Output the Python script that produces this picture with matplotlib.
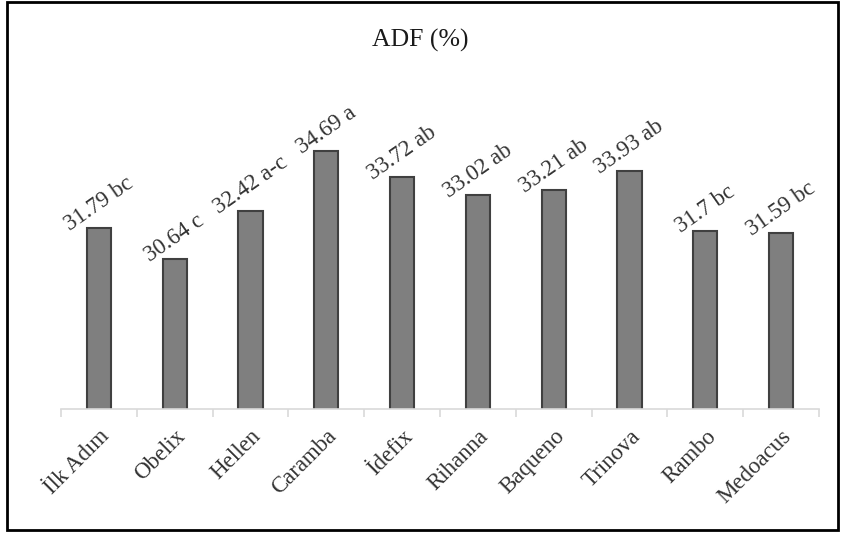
import matplotlib
matplotlib.use("Agg")
import matplotlib.pyplot as plt
import numpy as np
from matplotlib.patches import Rectangle

# Dati
cultivars = ['İlk Adım', 'Obelix', 'Hellen', 'Caramba', 'İdefix',
             'Rihanna', 'Baqueno', 'Trinova', 'Rambo', 'Medoacus']
adf = [31.79, 30.64, 32.42, 34.69, 33.72, 33.02, 33.21, 33.93, 31.70, 31.59]
letters = ['bc', 'c', 'a-c', 'a', 'ab', 'ab', 'ab', 'ab', 'bc', 'bc']
value_text = ['31.79', '30.64', '32.42', '34.69', '33.72',
              '33.02', '33.21', '33.93', '31.7', '31.59']

plt.rcParams['font.family'] = ['Liberation Serif', 'DejaVu Serif']

W, H = 841, 536
fig = plt.figure(figsize=(W / 100, H / 100), dpi=100)
fig.set_facecolor('white')

# area del grafico in pixel
left, right, base, top = 61, 819, 409, 116
ax = fig.add_axes([left / W, 1 - base / H, (right - left) / W, (base - top) / H])

x = np.arange(len(cultivars))
ax.bar(x, adf, width=0.32, color='#7f7f7f', edgecolor='#404040', linewidth=1.5, zorder=2)
ax.set_ylim(25, 36)
ax.set_xlim(-0.5, len(cultivars) - 0.5)

# etichette dei valori
for xi, v, t, l in zip(x, adf, value_text, letters):
    ax.annotate(f'{t} {l}', (xi, v), xytext=(0, -5), textcoords='offset points',
                ha='center', va='bottom', rotation=35, fontsize=16.5, color='#333333')

# assi
for s in ['left', 'right', 'top']:
    ax.spines[s].set_visible(False)
ax.spines['bottom'].set_color('#d9d9d9')
ax.spines['bottom'].set_linewidth(1.2)
ax.set_yticks([])
ax.set_xticks(x)
ax.set_xticklabels(cultivars, rotation=45, ha='right', rotation_mode='anchor',
                   fontsize=16.5, color='#333333')
ax.tick_params(axis='x', which='major', length=0, pad=12)
ax.set_xticks(np.arange(-0.5, len(cultivars)), minor=True)
ax.tick_params(axis='x', which='minor', length=6, color='#d9d9d9', width=1.2)

# titolo
fig.text(0.5, 1 - 40 / H, 'ADF (%)', ha='center', va='center', fontsize=18.5, color='#1a1a1a')

# bordo esterno
fig.add_artist(Rectangle((7 / W, 1 - 530 / H), (838 - 7) / W, (530 - 2) / H,
                         transform=fig.transFigure, fill=False, edgecolor='black', linewidth=2))

fig.savefig('out.png', dpi=100)
